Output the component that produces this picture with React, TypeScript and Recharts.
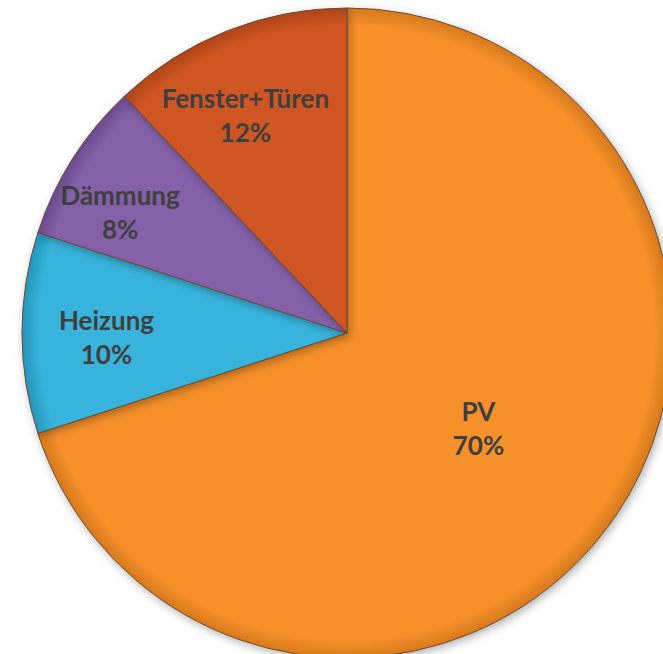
import React from 'react';
import { PieChart, Pie, Cell } from 'recharts';

const categories = ['PV', 'Heizung', 'Dämmung', 'Fenster+Türen'];
const shares = [70, 10, 8, 12];
const colors = ['#F5902C', '#37B4DC', '#8461A9', '#CF5622'];
const edgeColors = ['#D97A1C', '#2597BD', '#6B4C8F', '#B0451A'];

const data = categories.map((name, i) => ({ name, value: shares[i] }));

const RAD = Math.PI / 180;

// label radius (fraction of outer radius) and angle nudge, like Excel's best-fit placement
const labelRadius = [0.5, 0.74, 0.79, 0.74];
const labelNudge = [0, 1, 4.5, 3.4];

const renderLabel = (props: any) => {
  const { cx, cy, midAngle, outerRadius, index, name, value } = props;
  const r = outerRadius * labelRadius[index];
  const a = midAngle + labelNudge[index];
  const x = cx + r * Math.cos(-a * RAD);
  const y = cy + r * Math.sin(-a * RAD);
  return (
    <text
      x={x}
      y={y}
      textAnchor="middle"
      fill="#3f3f3f"
      fontFamily="Lato, 'Open Sans', sans-serif"
      fontWeight={700}
      fontSize={26}
    >
      <tspan x={x} dy={-7.5}>{name}</tspan>
      <tspan x={x} dy={34}>{value}%</tspan>
    </text>
  );
};

export default function App() {
  return (
    <div style={{ position: 'absolute', left: 0, top: 0, width: 663, height: 654, overflow: 'hidden', background: '#fff' }}>
      <PieChart width={663} height={654} margin={{ top: 0, right: 0, bottom: 0, left: 0 }}>
        <defs>
          {colors.map((c, i) => (
            <radialGradient key={i} id={`grad-${i}`} cx="347" cy="333" r="324" gradientUnits="userSpaceOnUse">
              <stop offset="0%" stopColor={c} />
              <stop offset="95%" stopColor={c} />
              <stop offset="100%" stopColor={edgeColors[i]} />
            </radialGradient>
          ))}
          <filter id="shadow" x="-10%" y="-10%" width="120%" height="120%">
            <feDropShadow dx="2" dy="3" stdDeviation="4" floodColor="#000" floodOpacity="0.3" />
          </filter>
        </defs>
        <Pie
          data={data}
          dataKey="value"
          nameKey="name"
          cx={347}
          cy={333}
          outerRadius={325}
          startAngle={90}
          endAngle={-270}
          strokeWidth={1}
          label={renderLabel}
          labelLine={false}
          isAnimationActive={false}
          style={{ filter: 'url(#shadow)' }}
        >
          {data.map((d, i) => (
            <Cell key={d.name} fill={`url(#grad-${i})`} stroke="#6a4a30" />
          ))}
        </Pie>
      </PieChart>
    </div>
  );
}
